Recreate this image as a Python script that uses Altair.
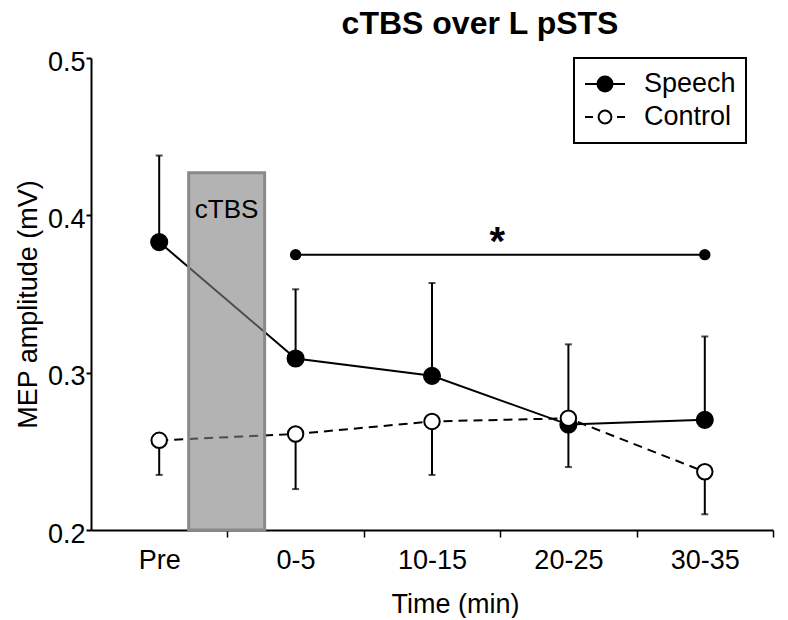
import altair as alt
import pandas as pd

# ---------------- data ----------------
categories = ["Pre", "0-5", "10-15", "20-25", "30-35"]
positions = [0, 1, 2, 3, 4]
series_names = ["Speech", "Control"]

speech_mean = [0.383, 0.309, 0.298, 0.267, 0.270]
speech_upper = [0.438, 0.353, 0.357, 0.318, 0.323]
control_mean = [0.257, 0.261, 0.269, 0.271, 0.237]
control_lower = [0.235, 0.226, 0.235, 0.240, 0.210]

ctbs_label = ["cTBS"]
ctbs_from = [0.216]
ctbs_to = [0.773]
ctbs_low = [0.2]
ctbs_high = [0.427]

sig_ends = [1, 4]
sig_level = [0.375, 0.375]
sig_mark = ["*"]
sig_mark_pos = [2.478]

FONT = "Liberation Sans"

rows = []
for p, c, m, e in zip(positions, categories, speech_mean, speech_upper):
    rows.append({"pos": p, "cat": c, "series": "Speech", "mean": m, "err": e})
for p, c, m, e in zip(positions, categories, control_mean, control_lower):
    rows.append({"pos": p, "cat": c, "series": "Control", "mean": m, "err": e})
df = pd.DataFrame(rows)

box_df = pd.DataFrame({"x0": ctbs_from, "x1": ctbs_to, "y0": ctbs_low, "y1": ctbs_high,
                       "label": ctbs_label, "xm": [(a + b) / 2 for a, b in zip(ctbs_from, ctbs_to)],
                       "ylab": [0.398]})
sig_df = pd.DataFrame({"pos": sig_ends, "y": sig_level})
sig_line_df = pd.DataFrame({"x0": [sig_ends[0]], "x1": [sig_ends[1]], "y": [sig_level[0]]})
star_df = pd.DataFrame({"pos": sig_mark_pos, "y": [sig_level[0]], "t": sig_mark})

# ---------------- scales & axes ----------------
x_scale = alt.Scale(domain=[-0.5, 4.5], nice=False, zero=False)
y_scale = alt.Scale(domain=[0.2, 0.5], nice=False, zero=False)

label_array = "[" + ",".join("'" + c + "'" for c in categories) + "]"
x_axis = alt.Axis(
    values=[0, 0.5, 1, 1.5, 2, 2.5, 3, 3.5, 4, 4.5],
    labelExpr=f"datum.value % 1 === 0 ? {label_array}[datum.value] : ''",
    tickOpacity={"condition": {"test": "datum.value % 1 === 0", "value": 0}, "value": 1},
    labelOverlap=False, labelFlush=False, grid=False,
    tickSize=7, tickWidth=1.5, tickColor="black",
    domainColor="black", domainWidth=2,
    labelFont=FONT, labelFontSize=27, labelColor="black",
    labelBaseline="alphabetic", labelPadding=31,
    titleFont=FONT, titleFontSize=27, titleFontWeight="normal", titleColor="black",
    titleX=364, titleY=82, titleBaseline="alphabetic", titleAlign="center",
)
y_axis = alt.Axis(
    values=[0.2, 0.3, 0.4, 0.5], format=".1f", grid=False,
    tickSize=5, tickWidth=2, tickColor="black",
    domainColor="black", domainWidth=2,
    labelFont=FONT, labelFontSize=27, labelColor="black", labelPadding=1,
    labelOffset=4,
    titleFont=FONT, titleFontSize=27, titleFontWeight="normal", titleColor="black",
    titleX=-55, titleY=246, titleBaseline="alphabetic", titleAlign="center",
)


def X(field):
    return alt.X(f"{field}:Q", scale=x_scale, axis=x_axis, title="Time (min)")


def Y(field):
    return alt.Y(f"{field}:Q", scale=y_scale, axis=y_axis, title="MEP amplitude (mV)")


fill_scale = alt.Scale(domain=series_names, range=["black", "white"])
stroke_scale = alt.Scale(domain=series_names, range=["black", "black"])
path_speech = "M-1,0H1M-0.375,0A0.375,0.375,0,1,1,0.375,0A0.375,0.375,0,1,1,-0.375,0Z"
path_control = "M-1,0H-0.6M0.6,0H1M-0.32,0A0.32,0.32,0,1,1,0.32,0A0.32,0.32,0,1,1,-0.32,0Z"
shape_scale = alt.Scale(domain=series_names, range=[path_speech, path_control])

legend = alt.Legend(
    title=None, orient="none", legendX=483, legendY=0,
    strokeColor="black", padding=10, clipHeight=32, rowPadding=1,
    symbolSize=1600, symbolStrokeWidth=2, symbolOpacity=1,
    labelFont=FONT, labelFontSize=27, labelColor="black", labelOffset=18, labelLimit=300,
)

# ---------------- layers ----------------
err_bars = alt.Chart(df).mark_rule(color="black", strokeWidth=2).encode(
    x=X("pos"), y=Y("mean"), y2="err:Q")
err_caps = alt.Chart(df).mark_tick(color="black", orient="horizontal", size=7, thickness=2).encode(
    x=X("pos"), y=Y("err"))

speech_line = alt.Chart(df).transform_filter("datum.series === 'Speech'").mark_line(
    color="black", strokeWidth=2).encode(x=X("pos"), y=Y("mean"))
control_line = alt.Chart(df).transform_filter("datum.series === 'Control'").mark_line(
    color="black", strokeWidth=2, strokeDash=[9, 6]).encode(x=X("pos"), y=Y("mean"))

box = alt.Chart(box_df).mark_rect(fill="#808080", fillOpacity=0.6, stroke="#8a8a8a",
                                  strokeWidth=3).encode(
    x=X("x0"), x2="x1:Q", y=Y("y0"), y2="y1:Q")
box_text = alt.Chart(box_df).mark_text(font=FONT, fontSize=26, color="black",
                                       baseline="alphabetic", align="center").encode(
    x=X("xm"), y=Y("ylab"), text="label:N")

speech_pts = alt.Chart(df).transform_filter("datum.series === 'Speech'").mark_point(
    shape="circle", size=260, fill="black", stroke="black", strokeWidth=2,
    opacity=1, fillOpacity=1).encode(x=X("pos"), y=Y("mean"))
control_pts = alt.Chart(df).transform_filter("datum.series === 'Control'").mark_point(
    shape="circle", size=240, fill="white", stroke="black", strokeWidth=2,
    opacity=1, fillOpacity=1).encode(x=X("pos"), y=Y("mean"))

legend_layer = alt.Chart(df).transform_filter("false").mark_point(
    strokeWidth=2, opacity=1, fillOpacity=1).encode(
    x=X("pos"), y=Y("mean"),
    fill=alt.Fill("series:N", scale=fill_scale, legend=legend),
    stroke=alt.Stroke("series:N", scale=stroke_scale, legend=legend),
    shape=alt.Shape("series:N", scale=shape_scale, legend=legend))

sig_line = alt.Chart(sig_line_df).mark_rule(color="black", strokeWidth=2).encode(
    x=X("x0"), x2="x1:Q", y=Y("y"))
sig_dots = alt.Chart(sig_df).mark_circle(color="black", size=130, opacity=1).encode(
    x=X("pos"), y=Y("y"))
star = alt.Chart(star_df).mark_text(font=FONT, fontSize=40, fontWeight="bold", color="black",
                                    baseline="alphabetic", align="center", dy=0).encode(
    x=X("pos"), y=Y("y"), text="t:N")

chart = alt.layer(
    err_bars, err_caps, speech_line, control_line, box, box_text,
    speech_pts, control_pts, legend_layer, sig_line, sig_dots, star,
).properties(
    width=682, height=472,
    padding={"left": 83, "top": 50, "right": 7, "bottom": 88},
    autosize=alt.AutoSizeParams(type="none"),
    title=alt.TitleParams(
        text="cTBS over L pSTS", font=FONT, fontSize=32, fontWeight="bold", color="black",
        anchor="middle", frame="group", baseline="alphabetic", offset=-18, dx=48),
).configure_view(stroke=None).configure_legend(strokeWidth=2)

chart.save("out.html", embed_options={"renderer": "svg", "actions": False})
